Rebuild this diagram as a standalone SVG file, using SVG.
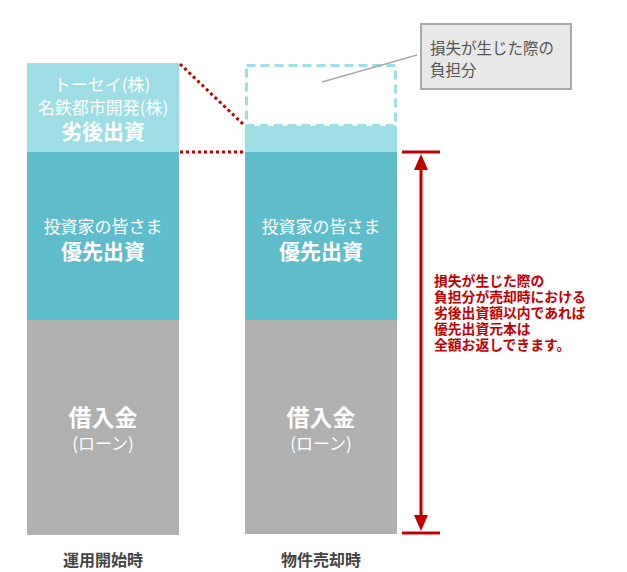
<svg xmlns="http://www.w3.org/2000/svg" width="627" height="572" viewBox="0 0 627 572">
<defs>
<style>
.t{font-family:"Noto Sans CJK JP","Noto Sans",sans-serif;text-anchor:middle;fill:#ffffff}
.lbl{font-family:"Noto Sans CJK JP","Noto Sans",sans-serif;text-anchor:middle;fill:#444444;font-size:16px;font-weight:bold}
.red{font-family:"Noto Sans CJK JP","Noto Sans",sans-serif;fill:#c00000;font-size:13.8px;font-weight:bold}
.call{font-family:"Noto Sans CJK JP","Noto Sans",sans-serif;fill:#555555;font-size:15.5px}
.dot{stroke:#c00000;stroke-width:3;stroke-dasharray:3,3;fill:none}
</style>
</defs>
<rect width="627" height="572" fill="#ffffff"/>
<g id="left-column">
<rect x="27" y="63" width="152" height="89" fill="#9ddde3"/>
<rect x="27" y="152" width="152" height="168" fill="#5fbccb"/>
<rect x="27" y="320" width="152" height="215" fill="#b0b0b0"/>
<text class="t" x="102" y="91" font-size="17">トーセイ(株)</text>
<text class="t" x="103" y="114" font-size="17">名鉄都市開発(株)</text>
<text class="t" x="103" y="139" font-size="21" font-weight="bold">劣後出資</text>
<text class="t" x="103" y="233" font-size="17">投資家の皆さま</text>
<text class="t" x="103" y="259" font-size="21" font-weight="bold">優先出資</text>
<text class="t" x="103" y="426" font-size="23" font-weight="bold">借入金</text>
<text class="t" x="103" y="450" font-size="17">(ローン)</text>
<text class="lbl" x="103" y="566">運用開始時</text>
</g>
<g id="right-column">
<rect x="245" y="126" width="152" height="26" fill="#9ddde3"/>
<rect x="246.5" y="65.5" width="149" height="60" fill="none" stroke="#9ddde3" stroke-width="3" stroke-dasharray="9,5"/>
<rect x="245" y="152" width="152" height="168" fill="#5fbccb"/>
<rect x="245" y="320" width="152" height="214" fill="#b0b0b0"/>
<text class="t" x="321" y="233" font-size="17">投資家の皆さま</text>
<text class="t" x="321" y="259" font-size="21" font-weight="bold">優先出資</text>
<text class="t" x="321" y="426" font-size="23" font-weight="bold">借入金</text>
<text class="t" x="321" y="450" font-size="17">(ローン)</text>
<text class="lbl" x="321" y="566">物件売却時</text>
</g>
<g id="callout">
<rect x="421" y="24" width="150" height="65" fill="#e8e8e8" stroke="#aaaaaa" stroke-width="2"/>
<text class="call" x="430" y="54">損失が生じた際の</text>
<text class="call" x="430" y="76">負担分</text>
</g>
<g id="note">
<text class="red" x="434" y="286">損失が生じた際の</text>
<text class="red" x="434" y="302">負担分が売却時における</text>
<text class="red" x="434" y="318">劣後出資額以内であれば</text>
<text class="red" x="434" y="334">優先出資元本は</text>
<text class="red" x="434" y="350">全額お返しできます。</text>
</g>
<g id="connectors">
<line class="dot" x1="180" y1="64" x2="244" y2="125"/>
<line class="dot" x1="180" y1="152" x2="244" y2="152"/>
<line x1="417" y1="55" x2="322" y2="82" stroke="#aaaaaa" stroke-width="1.5"/>
<line x1="402" y1="152" x2="440" y2="152" stroke="#c00000" stroke-width="3"/>
<line x1="402" y1="533" x2="440" y2="533" stroke="#c00000" stroke-width="3"/>
<line x1="421" y1="168" x2="421" y2="517" stroke="#c00000" stroke-width="3"/>
<path d="M421,154 L414,170 L428,170 Z" fill="#c00000"/>
<path d="M421,531 L414,515 L428,515 Z" fill="#c00000"/>
</g>
</svg>
